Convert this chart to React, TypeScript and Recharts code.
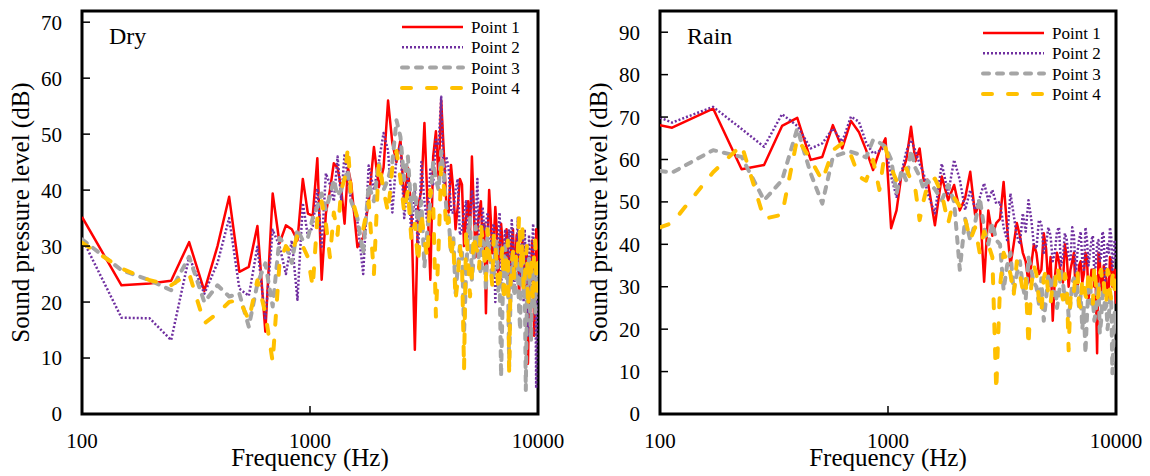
import { LineChart, Line, XAxis, YAxis, Legend, ReferenceArea } from 'recharts';

const FONT = "'Liberation Serif', 'Times New Roman', serif";

// x ticks (log axis)
const freqTicks = [100, 1000, 10000];
const dryTicks = [0, 10, 20, 30, 40, 50, 60, 70];
const rainTicks = [0, 10, 20, 30, 40, 50, 60, 70, 80, 90];

// Dry condition
const dryFreq = [
  100, 149, 198, 246, 295, 344, 393, 442, 490, 539, 588, 637, 686, 735, 784, 832, 881, 930, 979, 1028,
  1077, 1125, 1174, 1223, 1272, 1321, 1370, 1418, 1467, 1516,
  1614, 1711, 1809, 1907, 2004, 2102, 2200, 2297, 2395, 2493, 2590, 2688, 2786, 2883, 2981,
  3079, 3176, 3274, 3372, 3469, 3567, 3665, 3762, 3860, 3958, 4055, 4153, 4250, 4348, 4446, 4544, 4641, 4739,
  4837, 4934, 5032, 5130, 5227, 5325, 5423, 5520, 5618, 5716, 5813, 5911, 6009, 6106, 6204, 6302, 6399, 6497,
  6595, 6692, 6790, 6888, 6985, 7083, 7181, 7278, 7376, 7474, 7571, 7669, 7767, 7864, 7962, 8060, 8157, 8255,
  8353, 8450, 8548, 8646, 8743, 8841, 8939, 9036, 9134, 9232, 9330, 9427, 9525, 9622, 9720, 9818, 9909, 10000,
];
const dryP1 = [
  35.2, 23, 23.3, 23.8, 30.7, 22, 30, 38.8, 25.4, 26.3, 33.6, 14.7, 39.4, 30.5, 33.7, 33, 31, 42, 35.8, 35.4,
  45.7, 24, 35.8, 40, 44.8, 44, 40.3, 34, 44, 41.2,
  29.8, 31.6, 37.9, 47.7, 40.5, 44, 56, 48.4, 45, 49, 38, 44, 36, 11.5, 37,
  40, 52, 38, 24, 46, 50.5, 42, 56, 47, 38, 36, 44.5, 40, 33, 37, 42, 41, 30,
  35, 38, 32, 46, 37, 28, 33, 36, 38, 30, 34, 18, 31, 40, 35, 28.7, 31, 37,
  33, 24, 29, 34, 31, 27, 26, 33, 30, 22, 27, 31, 33, 25, 27, 32, 30, 21,
  26, 29, 31, 24, 22, 30, 28, 9, 20, 27, 25, 31, 28, 14, 22, 33, 29, 25,
];
const dryP2 = [
  31.4, 17.2, 17.1, 13.2, 28.1, 21.5, 27, 35, 22.4, 21.1, 29.9, 16.8, 32.9, 30, 25, 31, 20.4, 37.7, 31.7, 33.5,
  40.3, 29.9, 43, 41, 38, 46, 38.2, 46.5, 42, 38,
  34.5, 25, 44.4, 40, 45, 50.2, 47, 36, 46, 48, 35, 42, 32, 40, 29,
  45, 38, 34, 44, 41, 49, 48, 56.7, 40, 46, 44, 36, 36, 40, 42, 32, 33, 36,
  38, 31, 35, 40, 37, 33, 42, 30, 29, 37, 33, 34, 36, 29, 30, 33, 34, 20,
  28, 32, 36, 23, 27, 30, 33, 26, 29, 33, 25, 34.6, 31, 22, 28, 29, 35, 25,
  24, 30, 31, 20, 33, 27, 24, 14, 32, 26, 23, 30, 34, 22, 28, 4.6, 24, 18,
];
const dryP3 = [
  31.2, 25.7, 23.9, 22.1, 28.1, 20, 23, 21, 21.5, 15.6, 23.3, 26.9, 19.2, 31.5, 30, 27, 33, 31, 31.5, 35,
  37, 39.4, 36.5, 39, 41.8, 39, 40, 42, 43.6, 38,
  35, 28.7, 41, 38, 45, 40, 42, 45, 52.5, 49.5, 41.8, 46, 36, 41, 33,
  38, 26.3, 33, 38, 45, 42, 40, 47, 43, 37, 35, 29, 32, 21.5, 26, 30, 30, 14.4,
  25, 32, 35, 24, 28, 33.5, 31, 27, 25, 31, 30, 22, 33, 29, 27, 24, 25, 30,
  31, 22, 24, 6.7, 19, 28, 30, 24, 26, 8.5, 20, 26, 29, 21, 23, 28, 26, 19,
  15, 27, 28, 22, 24, 4.3, 20, 24, 28, 18, 13, 26, 25, 20, 18, 27, 26, 23,
];
const dryP4 = [
  30.6, 26, 23.9, 23, 25.1, 16.2, 18, 20, 20.4, 16.8, 23.9, 18, 9.3, 27, 30, 28.5, 32, 30, 28, 22.7,
  35, 38, 34, 28, 36, 32, 40, 42, 47.7, 39,
  35, 33, 38, 25, 45, 40, 36, 44, 47, 42, 36, 40, 31, 34, 27,
  36, 31, 28, 40, 38, 17.4, 30, 44, 41, 33, 35, 28, 31, 20.4, 24, 30, 27, 7.9,
  33, 28, 21, 25, 32, 30, 29, 26, 34, 31, 28, 24, 33, 29, 26, 23, 32, 30,
  27, 22, 24, 27, 30, 20, 25, 28, 31, 7.3, 23, 27, 29, 24, 26, 30, 29, 35.2,
  31, 26, 33, 22, 24, 28, 30, 19, 22, 27, 28, 23, 20, 30, 31, 25, 22, 27,
];

// Rain condition
const rainFreq = [
  100, 113, 171, 228, 286, 343, 400, 458, 515, 573, 630, 688, 745, 802, 860, 917, 975, 1032, 1090, 1147,
  1204, 1262, 1319, 1376, 1434, 1491,
  1606, 1721, 1836, 1950, 2065, 2180, 2295, 2410, 2525, 2640, 2754, 2869, 2984,
  3099, 3214, 3329, 3443, 3558, 3673, 3788, 3902, 4017, 4132, 4247, 4361, 4476, 4591, 4706, 4820, 4935, 5050,
  5165, 5279, 5394, 5509, 5624, 5738, 5853, 5968, 6083, 6197, 6312, 6427, 6542, 6656, 6771, 6886, 7001, 7115,
  7230, 7345, 7460, 7574, 7689, 7804, 7919, 8033, 8148, 8263, 8378, 8492, 8607, 8722, 8837, 8951, 9066, 9181,
  9296, 9410, 9525, 9640, 9755, 9869, 10000,
];
const rainP1 = [
  68.1, 67.5, 72, 57.7, 58.7, 67.9, 69.8, 59.9, 60.6, 68.1, 62.6, 69.1, 66.5, 62.2, 57.5, 62, 65, 43.8, 48, 56.7,
  60, 67.7, 59.6, 62.6, 55, 55.2,
  44.5, 56, 50.4, 54, 48, 51, 57.1, 47, 50, 31.2, 48, 42, 45,
  46, 54.7, 44, 35, 40, 45, 42, 38, 36, 31, 35, 40, 38, 33, 34, 42.6, 39, 30,
  37, 22, 32, 38, 36, 33, 31, 40, 37, 30, 34, 36, 38, 28, 29, 35, 36, 31,
  33, 38, 37, 27, 30, 34, 34, 30, 31, 14.3, 38, 36, 30, 29, 35, 33, 32, 27,
  29, 37, 36, 30, 33, 34, 26,
];
const rainP2 = [
  69.9, 68.7, 72.4, 67.2, 63, 70.7, 67.9, 62.6, 63.8, 67.3, 64.2, 70.1, 68.9, 64, 61.4, 62, 63, 56, 51.2, 57,
  62, 64.6, 62, 59, 56.7, 52,
  47.3, 59, 52, 59.9, 55.2, 48.1, 52.8, 48.1, 51, 54.4, 50.4, 52.8, 49.6,
  50, 44, 41, 52, 47, 42, 40, 47.3, 43, 50.4, 46, 40, 39, 45.7, 45, 38, 40, 44,
  42, 36, 38, 43, 44, 35, 37, 42.6, 41, 37, 36, 44, 42, 33, 38, 41, 43, 36,
  34, 44, 41, 35, 38, 41, 42, 33, 35, 40, 41, 36, 37, 43, 42, 31, 36, 40,
  38, 44, 42, 34, 37, 41, 36,
];
const rainP3 = [
  57.3, 56.9, 62.2, 60.6, 50.4, 55.1, 67.3, 56.7, 49.6, 60.6, 61.4, 61.8, 61.2, 60.5, 64.6, 64, 63, 60, 52, 57.5,
  55, 62.2, 58, 56, 53, 55,
  53, 50.4, 54, 50, 34, 46, 41, 45, 51, 44, 40, 45, 41,
  40, 29.2, 35, 38, 29, 33, 36, 30, 27, 37, 34, 31, 30, 26, 32, 22, 27, 33,
  31, 28, 33, 25, 28, 34, 31, 27, 29, 23, 26, 31, 32, 28, 30, 25, 28, 20,
  25, 14.3, 23, 30, 31, 26, 27, 22, 24, 29, 31, 19, 22, 28, 30, 24, 26, 20,
  23, 27, 28, 9.6, 18, 24, 20,
];
const rainP4 = [
  44, 45, 57, 63.4, 46, 47, 65, 60, 55, 62.2, 63.8, 61, 56, 55, 59.9, 52.8, 62.7, 58, 55, 57,
  57.9, 55, 52.9, 45.7, 50.4, 54,
  55.5, 52, 44.9, 51, 49, 46, 41, 44, 38, 43, 40, 37, 5.5,
  30, 38, 36, 33, 28, 36, 33, 29.2, 32, 16, 30, 35, 33, 27, 24, 32, 34, 28,
  26, 31, 30, 35, 33, 29, 27, 33, 31, 15, 27, 30, 29, 33, 34, 26, 25, 32,
  31, 28, 27, 34, 32, 29, 26, 35, 31, 27, 28, 33, 34, 30, 31, 27, 26, 34,
  33, 29, 27, 32, 34, 28, 30,
];

const series = [
  { key: 'p1', name: 'Point 1', color: '#FF0000', width: 2.5, dash: undefined, cap: 'butt' },
  { key: 'p2', name: 'Point 2', color: '#7030A0', width: 2.5, dash: '2 2', cap: 'butt' },
  { key: 'p3', name: 'Point 3', color: '#A5A5A5', width: 4, dash: '6 8', cap: 'round' },
  { key: 'p4', name: 'Point 4', color: '#FFC000', width: 4, dash: '9 16', cap: 'round' },
] as const;

function buildRows(freq: number[], a: number[], b: number[], c: number[], d: number[]) {
  return freq.map((f, i) => ({ f, p1: a[i], p2: b[i], p3: c[i], p4: d[i] }));
}

const dryRows = buildRows(dryFreq, dryP1, dryP2, dryP3, dryP4);
const rainRows = buildRows(rainFreq, rainP1, rainP2, rainP3, rainP4);

// legend drawn in svg so the text matches the axis fonts
const renderLegend = () => (
  <svg width={130} height={84} style={{ display: 'block', overflow: 'visible' }}>
    {series.map((s, i) => {
      const cy = 10 + i * 20.3;
      return (
        <g key={s.key}>
          <line
            x1={2}
            y1={cy}
            x2={63}
            y2={cy}
            stroke={s.color}
            strokeWidth={s.width}
            strokeDasharray={s.dash}
            strokeLinecap={s.cap}
          />
          <text x={71} y={cy + 6} fontFamily={FONT} fontSize={17} fill="#000">
            {s.name}
          </text>
        </g>
      );
    })}
  </svg>
);

interface PanelProps {
  rows: { f: number; p1: number; p2: number; p3: number; p4: number }[];
  yMax: number;
  yTicks: number[];
  tag: string;
  left: number;
  marginLeft: number;
  legendLeft: number;
  legendTop: number;
}

function Panel({ rows, yMax, yTicks, tag, left, marginLeft, legendLeft, legendTop }: PanelProps) {
  const W = 575;
  const plotLeft = marginLeft + 70;
  return (
    <div style={{ position: 'absolute', left, top: 0, width: W, height: 476 }}>
      <LineChart width={W} height={476} data={rows} margin={{ top: 11, right: W - plotLeft - 456, bottom: 22, left: marginLeft }}>
        <XAxis
          dataKey="f"
          type="number"
          scale="log"
          domain={[100, 10000]}
          ticks={freqTicks}
          interval={0}
          allowDataOverflow
          height={40}
          axisLine={false}
          tickLine={{ stroke: '#000', strokeWidth: 1.5 }}
          tickSize={-8}
          tickMargin={27}
          tick={{ fill: '#000', fontSize: 21, fontFamily: FONT }}
          label={{
            content: () => (
              <text x={plotLeft + 228} y={466} textAnchor="middle" fontFamily={FONT} fontSize={25} fill="#000">
                Frequency (Hz)
              </text>
            ),
          }}
        />
        <YAxis
          type="number"
          domain={[0, yMax]}
          ticks={yTicks}
          interval={0}
          allowDataOverflow
          width={70}
          axisLine={false}
          tickLine={{ stroke: '#000', strokeWidth: 1.5 }}
          tickSize={-8}
          tickMargin={28}
          tick={{ fill: '#000', fontSize: 21, fontFamily: FONT }}
          label={{
            content: () => (
              <text
                x={plotLeft - 53}
                y={212.5}
                transform={`rotate(-90 ${plotLeft - 53} 212.5)`}
                textAnchor="middle"
                fontFamily={FONT}
                fontSize={25}
                fill="#000"
              >
                Sound pressure level (dB)
              </text>
            ),
          }}
        />
        {series.map((s) => (
          <Line
            key={s.key}
            type="linear"
            dataKey={s.key}
            name={s.name}
            stroke={s.color}
            strokeWidth={s.width}
            strokeDasharray={s.dash}
            strokeLinecap={s.cap}
            strokeLinejoin="round"
            dot={false}
            activeDot={false}
            isAnimationActive={false}
          />
        ))}
        <ReferenceArea x1={100} x2={10000} y1={0} y2={yMax} fill="none" stroke="#000" strokeWidth={3} />
        <Legend
          layout="vertical"
          align="center"
          verticalAlign="middle"
          content={renderLegend}
          wrapperStyle={{ left: legendLeft, top: legendTop, width: 130 }}
        />
      </LineChart>
      <div
        style={{
          position: 'absolute',
          left: plotLeft + 27,
          top: 24,
          fontFamily: FONT,
          fontSize: 24,
          lineHeight: '24px',
          color: '#000',
        }}
      >
        {tag}
      </div>
    </div>
  );
}

export default function App() {
  return (
    <div style={{ position: 'absolute', left: 0, top: 0, width: 1150, height: 476, background: '#fff' }}>
      <Panel rows={dryRows} yMax={72} yTicks={dryTicks} tag="Dry" left={0} marginLeft={12} legendLeft={400} legendTop={17} />
      <Panel rows={rainRows} yMax={95} yTicks={rainTicks} tag="Rain" left={575} marginLeft={15} legendLeft={406} legendTop={23} />
    </div>
  );
}
